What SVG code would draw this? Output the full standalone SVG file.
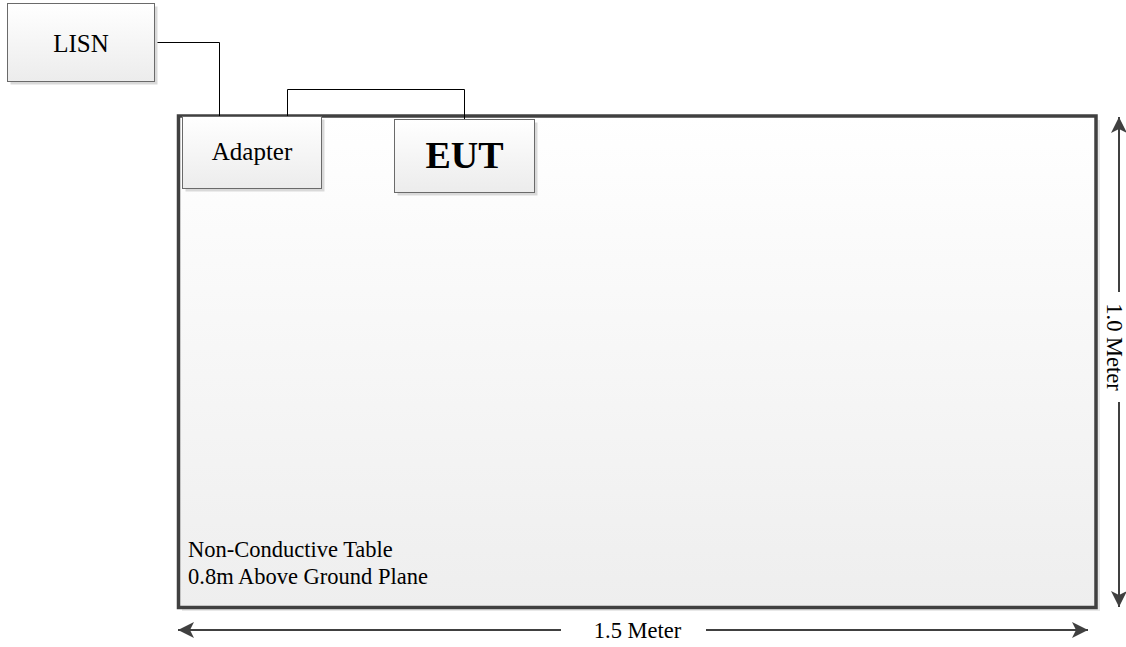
<svg xmlns="http://www.w3.org/2000/svg" width="1126" height="647" viewBox="0 0 1126 647">
<defs>
<linearGradient id="boxg" x1="0" y1="0" x2="0" y2="1"><stop offset="0" stop-color="#ffffff"/><stop offset="1" stop-color="#ececec"/></linearGradient>
<linearGradient id="tabg" x1="0" y1="0" x2="0" y2="1"><stop offset="0" stop-color="#ffffff"/><stop offset="1" stop-color="#eeeeee"/></linearGradient>
<marker id="ah" viewBox="0 0 16 16" refX="16" refY="8" markerWidth="16" markerHeight="16" markerUnits="userSpaceOnUse" orient="auto-start-reverse"><path d="M0,0 L16,8 L0,16 L4,8 Z" fill="#404040"/></marker>
<style>
.box{fill:url(#boxg);stroke:#6a6a6a;stroke-width:1}
.shadow{fill:#d9d9d9}
.t{font-family:"Liberation Serif","Times New Roman",serif;fill:#000}
.conn{fill:none;stroke:#000;stroke-width:1}
.dim{fill:none;stroke:#404040;stroke-width:2}
</style>
</defs>
<rect width="1126" height="647" fill="#ffffff"/>
<g id="table">
<rect x="182" y="120" width="918" height="491" class="shadow" opacity="0.6"/>
<rect x="178.5" y="116" width="917.5" height="491.5" fill="url(#tabg)" stroke="#404040" stroke-width="3.5"/>
<text class="t" x="188" y="556.5" font-size="22.5">Non-Conductive Table</text>
<text class="t" x="188" y="583.5" font-size="22.5">0.8m Above Ground Plane</text>
</g>
<g id="connectors">
<polyline class="conn" points="155,42.5 219.5,42.5 219.5,116.5"/>
<polyline class="conn" points="287.5,116.5 287.5,89.5 464.5,89.5 464.5,119.5"/>
</g>
<g id="lisn">
<rect x="10.5" y="6.5" width="147" height="78" class="shadow"/>
<rect x="7.5" y="3.5" width="147" height="78" class="box"/>
<text class="t" x="81" y="51.5" font-size="25" text-anchor="middle">LISN</text>
</g>
<g id="adapter">
<rect x="185.5" y="119.5" width="139" height="72" class="shadow"/>
<rect x="182.5" y="116.5" width="139" height="72" class="box"/>
<text class="t" x="252" y="160" font-size="25" text-anchor="middle">Adapter</text>
</g>
<g id="eut">
<rect x="397.5" y="122.5" width="140" height="73" class="shadow"/>
<rect x="394.5" y="119.5" width="140" height="73" class="box"/>
<text class="t" x="464.5" y="167.5" font-size="38" font-weight="bold" text-anchor="middle">EUT</text>
</g>
<g id="dimensions">
<line class="dim" x1="178" y1="630" x2="561" y2="630" marker-start="url(#ah)"/>
<line class="dim" x1="706" y1="630" x2="1088" y2="630" marker-end="url(#ah)"/>
<text class="t" x="637.5" y="637.5" font-size="22.5" text-anchor="middle">1.5 Meter</text>
<line class="dim" x1="1119" y1="117" x2="1119" y2="292" marker-start="url(#ah)"/>
<line class="dim" x1="1119" y1="402" x2="1119" y2="607" marker-end="url(#ah)"/>
<text class="t" font-size="22.5" text-anchor="middle" transform="translate(1107,347) rotate(90)">1.0 Meter</text>
</g>
</svg>
